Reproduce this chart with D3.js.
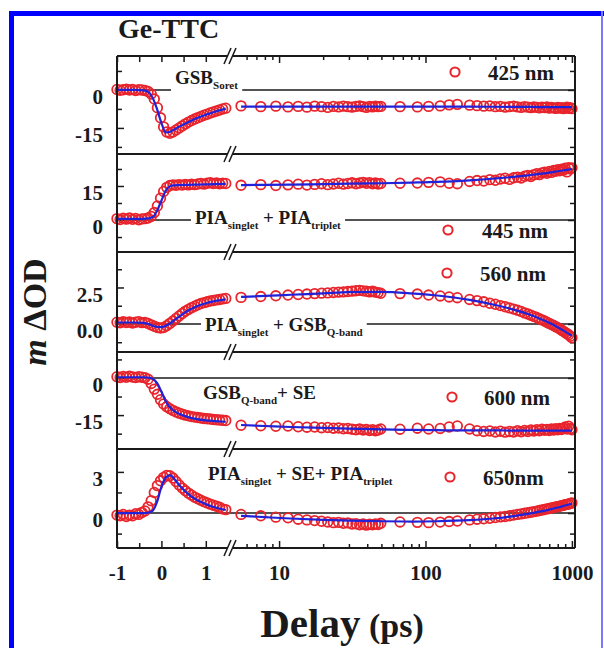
<!DOCTYPE html>
<html><head><meta charset="utf-8">
<script src="https://cdn.jsdelivr.net/npm/d3@7"></script>
<style>body{margin:0;background:#fff}text{white-space:pre}</style>
</head><body><svg id="c" width="604" height="648"></svg>
<script>
// ---------------- data ----------------
const tLin=[-1.00,-0.93,-0.86,-0.79,-0.72,-0.65,-0.58,-0.51,-0.44,-0.37,-0.30,-0.23,-0.16,-0.09,-0.02,0.05,0.12,0.19,0.26,0.33,0.40,0.47,0.54,0.61,0.68,0.75,0.82,0.89,0.96,1.03,1.10,1.17,1.24,1.31,1.38,1.45];
const tLog=[5.5,7.5,9.5,11.5,13.5,15.5,17.5,19.5,21.5,23.5,25.5,27.5,29.5,31.5,33.5,35.5,37.5,39.5,41.5,43.5,45.5,47.5,49.5,67,88,105,126,145,165,200,225,250,275,300,325,350,375,400,425,450,475,500,525,550,575,600,625,650,675,700,725,750,775,800,825,850,875,900,925,950,975,1000];
const fitTLin=[-1,-0.6,-0.4,-0.3,-0.2,-0.1,0,0.1,0.2,0.3,0.4,0.5,0.6,0.8,1.0,1.2,1.45];
const fitTLog=[5.5,8,12,20,30,50,80,120,200,300,400,500,600,700,800,900,1000];

const wavelengths=["425 nm","445 nm","560 nm","600 nm","650nm"];

// 425 nm
const s425Lin=[0.2,-0.1,0.1,0.3,0.0,0.2,-0.2,0.1,0.0,-0.2,-0.6,-1.6,-3.6,-7.0,-11.0,-14.6,-16.6,-17.1,-16.6,-15.8,-15.0,-14.2,-13.4,-12.7,-12.1,-11.5,-11.0,-10.5,-10.0,-9.6,-9.1,-8.7,-8.3,-7.9,-7.5,-7.2];
const s425Log=[-6.3,-6.6,-6.4,-6.7,-6.5,-6.8,-6.4,-6.6,-6.9,-6.5,-6.7,-6.4,-6.6,-6.8,-6.5,-6.3,-6.6,-6.9,-6.5,-6.7,-6.4,-6.6,-6.5,-6.6,-6.7,-6.5,-6.3,-5.9,-5.7,-6.0,-6.2,-6.4,-6.3,-6.6,-6.5,-6.8,-6.6,-6.4,-6.7,-6.9,-6.6,-6.8,-7.0,-6.7,-6.9,-7.1,-6.8,-7.0,-6.7,-7.2,-6.9,-7.1,-7.3,-6.9,-7.2,-7.0,-7.4,-7.1,-6.8,-7.3,-7.0,-7.4];
const f425Lin=[0,0,-0.2,-0.8,-3,-7.5,-13,-16.8,-16.5,-15.5,-14.5,-13.6,-12.8,-11.1,-9.8,-8.6,-7.4];
const f425Log=[-6.6,-6.6,-6.6,-6.6,-6.6,-6.6,-6.6,-6.6,-6.6,-6.65,-6.7,-6.7,-6.75,-6.75,-6.8,-6.8,-6.8];

// 445 nm
const s445Lin=[0.6,0.2,0.8,0.4,0.9,0.3,0.7,0.1,0.5,0.6,0.9,1.6,3.3,6.2,9.6,12.6,14.4,15.2,15.5,15.3,15.6,15.4,15.7,15.5,15.8,15.6,15.9,16.1,15.8,16.2,16.4,16.1,16.3,16.0,16.2,16.1];
const s445Log=[15.3,15.6,15.2,15.5,15.8,15.4,15.7,16.0,15.6,15.9,16.2,15.8,16.1,16.4,16.0,16.3,16.6,16.2,16.5,16.0,16.3,15.9,16.1,16.2,16.3,16.6,16.8,16.2,16.0,17.0,17.4,17.2,17.8,17.5,18.1,18.4,17.9,18.6,18.9,18.5,19.3,19.6,19.2,20.0,20.4,20.0,20.8,21.1,20.6,21.4,21.0,21.8,21.5,22.2,21.7,22.4,22.0,22.8,21.2,23.1,22.5,23.0];
const f445Lin=[0.5,0.5,0.5,0.7,1.2,4,8.5,13,15,15.3,15.4,15.5,15.5,15.6,15.7,15.8,15.9];
const f445Log=[15.4,15.5,15.6,15.8,16.0,16.2,16.5,16.8,17.5,18.3,19.0,19.7,20.3,20.9,21.5,22.0,22.5];

// 560 nm
const s560Lin=[0.12,0.08,0.15,0.10,0.14,0.07,0.12,0.16,0.09,0.11,0.04,-0.06,-0.16,-0.24,-0.28,-0.24,-0.12,0.04,0.20,0.38,0.55,0.72,0.88,1.00,1.12,1.22,1.32,1.40,1.46,1.52,1.57,1.61,1.65,1.68,1.72,1.75];
const s560Log=[1.82,1.88,1.93,1.98,2.02,2.05,2.08,2.11,2.13,2.16,2.18,2.20,2.22,2.25,2.28,2.30,2.27,2.24,2.20,2.25,2.18,2.15,2.10,2.08,2.05,1.98,1.92,1.85,1.80,1.68,1.60,1.52,1.42,1.35,1.26,1.18,1.10,1.02,0.94,0.86,0.76,0.68,0.60,0.52,0.44,0.36,0.28,0.20,0.12,0.04,-0.04,-0.10,-0.18,-0.26,-0.33,-0.42,-0.50,-0.58,-0.66,-0.74,-0.84,-0.95];
const f560Lin=[0.1,0.1,0.08,0.0,-0.12,-0.2,-0.22,-0.12,0.05,0.28,0.5,0.72,0.92,1.22,1.42,1.56,1.68];
const f560Log=[1.85,1.92,2.0,2.1,2.18,2.2,2.1,1.95,1.65,1.3,0.98,0.68,0.38,0.08,-0.22,-0.52,-0.82];

// 600 nm
const s600Lin=[0.5,0.2,0.6,0.3,0.7,0.4,0.2,0.5,0.3,0.1,-0.5,-2.2,-4.5,-6.6,-8.8,-10.5,-11.6,-12.4,-13.1,-13.7,-14.2,-14.6,-15.0,-15.3,-15.6,-15.8,-16.0,-16.2,-16.4,-16.5,-16.6,-16.8,-16.9,-17.0,-17.1,-17.2];
const s600Log=[-19.1,-19.3,-19.5,-19.4,-19.7,-19.9,-19.8,-20.1,-20.0,-20.3,-20.2,-20.5,-20.4,-20.7,-20.9,-20.6,-21.0,-20.8,-21.2,-20.9,-21.3,-21.0,-20.6,-20.7,-20.3,-20.6,-20.4,-19.8,-19.4,-20.6,-21.3,-21.6,-21.4,-21.8,-21.5,-21.9,-21.6,-21.8,-21.3,-21.7,-21.2,-21.6,-21.0,-21.4,-20.9,-21.3,-20.7,-21.1,-20.8,-21.2,-20.6,-21.0,-20.5,-20.9,-20.4,-20.8,-20.3,-19.8,-20.6,-19.5,-20.4,-20.9];
const f600Lin=[0.3,0.3,0.3,0.2,-0.3,-2.0,-5.5,-9.5,-12,-13.5,-14.5,-15.2,-15.8,-16.6,-17.1,-17.4,-17.7];
const f600Log=[-19,-19.4,-19.8,-20.2,-20.5,-20.8,-21,-21.1,-21.2,-21.2,-21.25,-21.25,-21.3,-21.3,-21.3,-21.3,-21.3];

// 650 nm
const s650Lin=[-0.15,-0.2,-0.1,-0.25,-0.15,-0.2,-0.05,-0.1,0.05,0.15,0.45,0.9,1.5,2.0,2.35,2.6,2.75,2.72,2.55,2.3,2.05,1.82,1.62,1.45,1.3,1.16,1.04,0.93,0.83,0.74,0.65,0.57,0.5,0.42,0.3,0.25];
const s650Log=[-0.1,-0.2,-0.3,-0.35,-0.45,-0.5,-0.55,-0.6,-0.65,-0.7,-0.68,-0.75,-0.72,-0.8,-0.78,-0.85,-0.8,-0.88,-0.82,-0.86,-0.8,-0.84,-0.75,-0.65,-0.68,-0.7,-0.66,-0.62,-0.58,-0.5,-0.45,-0.42,-0.38,-0.33,-0.28,-0.25,-0.2,-0.15,-0.1,-0.06,-0.02,0.02,0.06,0.1,0.14,0.18,0.22,0.26,0.3,0.33,0.37,0.4,0.44,0.47,0.5,0.54,0.57,0.6,0.63,0.66,0.7,0.74];
const f650Lin=[0,0,0,0.02,0.15,0.8,1.9,2.6,2.75,2.45,2.05,1.7,1.4,0.95,0.65,0.42,0.22];
const f650Log=[-0.2,-0.3,-0.4,-0.5,-0.55,-0.6,-0.62,-0.6,-0.52,-0.38,-0.22,-0.06,0.1,0.25,0.4,0.55,0.68];

// axes
const yDomains=[[-25.3,13.4],[-14.1,29.1],[-1.92,4.93],[-28.7,10.5],[-2.55,4.67]];
const yMajorTicks=[[0,-15],[15,0],[2.5,0],[0,-15],[3,0]];
const yMinorTicks=[[7.5,-7.5,-22.5],[22.5,7.5,-7.5],[3.75,1.25,-1.25],[7.5,-7.5,-22.5],[1.5,-1.5]];
const yTickText=[["0","-15"],["15","0"],["2.5","0.0"],["0","-15"],["3","0"]];
const xLinMajor=[-1,0,1], xLinMinor=[-0.5,0.5];
const xLinLabels=["-1","0","1"];
const xLogMajor=[10,100,1000];
const xLogMinor=[6,7,8,9,20,30,40,50,60,70,80,90,200,300,400,500,600,700,800,900];
const xLogLabels=["10","100","1000"];

const annotations=[
 [["GSB",0],["Soret",1]],
 [["PIA",0],["singlet",1],[" + PIA",0],["triplet",1]],
 [["PIA",0],["singlet",1],[" + GSB",0],["Q-band",1]],
 [["GSB",0],["Q-band",1],["+ SE",0]],
 [["PIA",0],["singlet",1],[" + SE+ PIA",0],["triplet",1]]
];

// ---------------- layout ----------------
const FONT="'Liberation Serif','Times New Roman',Times,serif";
const RED="#e8242c", BLUE="#1f22d8", INK="#1a1a1a";
const X0=117, X1=575, XB1=228, XB2=235;
const panelEdges=[56,154,252,352,449,548];
const annPos=[[175,84],[195,224],[205,331],[203,399],[208,480]];
const legPos=[[455,72],[448,230],[447,273],[452,397],[450,477]];
const legTextX=[488,482,480,484,483];

const series=[
 {lin:s425Lin,log:s425Log,fLin:f425Lin,fLog:f425Log},
 {lin:s445Lin,log:s445Log,fLin:f445Lin,fLog:f445Log},
 {lin:s560Lin,log:s560Log,fLin:f560Lin,fLog:f560Log},
 {lin:s600Lin,log:s600Log,fLin:f600Lin,fLog:f600Log},
 {lin:s650Lin,log:s650Log,fLin:f650Lin,fLog:f650Log}
];

const svg=d3.select("#c").attr("font-family",FONT).attr("font-weight","bold");
svg.append("rect").attr("width",604).attr("height",648).attr("fill","#fff");

const xL=d3.scaleLinear().domain([-1,1.5]).range([X0,XB1]);
const xR=d3.scaleLog().domain([5,1050]).range([XB2,X1]);

function fixAxis(sel,size){
  sel.attr("font-family",FONT).attr("font-size",size||21).attr("font-weight","bold");
  sel.select(".domain").remove();
  sel.selectAll("line").attr("stroke",INK).attr("stroke-width",1.5);
  sel.selectAll("text").attr("fill",INK);
}

const lineGen=d3.line().curve(d3.curveMonotoneX);

series.forEach((s,i)=>{
  const y=d3.scaleLinear().domain(yDomains[i]).range([panelEdges[i+1],panelEdges[i]]);
  const g=svg.append("g");
  // zero line
  g.append("line").attr("x1",X0).attr("x2",X1).attr("y1",y(0)).attr("y2",y(0))
    .attr("stroke",INK).attr("stroke-width",1.6);
  // annotation with knockout
  const ag=g.append("g");
  const t=ag.append("text").attr("x",annPos[i][0]).attr("y",annPos[i][1]).attr("font-size",19).attr("fill",INK);
  let prevSub=false;
  annotations[i].forEach(([str,sub])=>{
    const ts=t.append("tspan").text(str);
    if(sub){ts.attr("font-size",11).attr("dy",prevSub?0:5);}
    else{ts.attr("dy",prevSub?-5:0);}
    prevSub=!!sub;
  });
  const bb=t.node().getBBox();
  ag.insert("rect","text").attr("x",bb.x-4).attr("y",bb.y).attr("width",bb.width+8).attr("height",bb.height).attr("fill","#fff");

  // y ticks
  const la=g.append("g").attr("transform",`translate(${X0},0)`)
    .call(d3.axisLeft(y).tickValues(yMajorTicks[i]).tickSize(-7).tickPadding(14).tickFormat((d,k)=>yTickText[i][k]));
  fixAxis(la);
  la.selectAll("text").attr("transform","translate(0,7)");
  fixAxis(g.append("g").attr("transform",`translate(${X0},0)`)
    .call(d3.axisLeft(y).tickValues(yMinorTicks[i]).tickSize(-5).tickFormat("")));
  fixAxis(g.append("g").attr("transform",`translate(${X1},0)`)
    .call(d3.axisRight(y).tickValues(yMajorTicks[i]).tickSize(-7).tickFormat("")));
  fixAxis(g.append("g").attr("transform",`translate(${X1},0)`)
    .call(d3.axisRight(y).tickValues(yMinorTicks[i]).tickSize(-5).tickFormat("")));

  // data circles
  const pts=tLin.map((tt,j)=>({x:xL(tt),y:y(s.lin[j])}))
    .concat(tLog.map((tt,j)=>({x:xR(tt),y:y(s.log[j])})));
  g.selectAll("circle.pt").data(pts).join("circle").attr("class","pt")
    .attr("cx",d=>d.x).attr("cy",d=>d.y).attr("r",4.8)
    .attr("fill","none").attr("stroke",RED).attr("stroke-width",1.8);
  // fits
  g.append("path").attr("d",lineGen(fitTLin.map((tt,j)=>[xL(tt),y(s.fLin[j])])))
    .attr("fill","none").attr("stroke",BLUE).attr("stroke-width",2.2);
  g.append("path").attr("d",lineGen(fitTLog.map((tt,j)=>[xR(tt),y(s.fLog[j])])))
    .attr("fill","none").attr("stroke",BLUE).attr("stroke-width",2.2);

  // legend
  g.append("circle").attr("cx",legPos[i][0]).attr("cy",legPos[i][1]).attr("r",4.6)
    .attr("fill","none").attr("stroke",RED).attr("stroke-width",2);
  g.append("text").attr("x",legTextX[i]).attr("y",legPos[i][1]+8).attr("font-size",21).attr("fill",INK).text(wavelengths[i]);
});

// x axes top
const topY=panelEdges[0], botY=panelEdges[5];
fixAxis(svg.append("g").attr("transform",`translate(0,${topY})`).call(d3.axisTop(xL).tickValues(xLinMajor.concat(xLinMinor)).tickSize(-6).tickFormat("")));
fixAxis(svg.append("g").attr("transform",`translate(0,${topY})`).call(d3.axisTop(xR).tickValues(xLogMajor).tickSize(-7).tickFormat("")));
fixAxis(svg.append("g").attr("transform",`translate(0,${topY})`).call(d3.axisTop(xR).tickValues(xLogMinor).tickSize(-4).tickFormat("")));
// bottom
fixAxis(svg.append("g").attr("transform",`translate(0,${botY})`).call(d3.axisBottom(xL).tickValues(xLinMajor).tickSize(-7).tickPadding(17).tickFormat((d,k)=>xLinLabels[k])));
fixAxis(svg.append("g").attr("transform",`translate(0,${botY})`).call(d3.axisBottom(xL).tickValues(xLinMinor).tickSize(-5).tickFormat("")));
fixAxis(svg.append("g").attr("transform",`translate(0,${botY})`).call(d3.axisBottom(xR).tickValues(xLogMajor).tickSize(-7).tickPadding(17).tickFormat((d,k)=>xLogLabels[k])));
fixAxis(svg.append("g").attr("transform",`translate(0,${botY})`).call(d3.axisBottom(xR).tickValues(xLogMinor).tickSize(-4).tickFormat("")));

// frame
const fr=svg.append("g").attr("stroke",INK).attr("stroke-width",2);
panelEdges.forEach(ey=>fr.append("line").attr("x1",X0).attr("x2",X1).attr("y1",ey).attr("y2",ey));
fr.append("line").attr("x1",X0).attr("x2",X0).attr("y1",topY).attr("y2",botY);
fr.append("line").attr("x1",X1).attr("x2",X1).attr("y1",topY).attr("y2",botY);
// break marks
panelEdges.forEach(ey=>{
  svg.append("rect").attr("x",228).attr("y",ey-3).attr("width",5).attr("height",6).attr("fill","#fff");
  svg.append("line").attr("x1",224).attr("y1",ey+8).attr("x2",231).attr("y2",ey-8).attr("stroke",INK).attr("stroke-width",1.5);
  svg.append("line").attr("x1",229).attr("y1",ey+8).attr("x2",236).attr("y2",ey-8).attr("stroke",INK).attr("stroke-width",1.5);
});

// titles
svg.append("text").attr("x",118).attr("y",38).attr("font-size",28).attr("fill",INK).text("Ge-TTC");
const yl=svg.append("text").attr("transform","translate(46,312) rotate(-90)").attr("text-anchor","middle").attr("font-size",34).attr("fill",INK);
yl.append("tspan").attr("font-style","italic").text("m");
yl.append("tspan").text(" \u0394OD");
const xt=svg.append("text").attr("x",342).attr("y",637).attr("text-anchor","middle").attr("fill",INK);
xt.append("tspan").attr("font-size",41).text("Delay");
xt.append("tspan").attr("font-size",34).text(" (ps)");

// blue frame
svg.append("rect").attr("x",9).attr("y",11).attr("width",595).attr("height",5).attr("fill","#0000ff");
svg.append("rect").attr("x",9).attr("y",11).attr("width",5).attr("height",637).attr("fill","#0000ff");
svg.append("rect").attr("x",601).attr("y",11).attr("width",2).attr("height",637).attr("fill","#7a7aff");
</script>
</body></html>
